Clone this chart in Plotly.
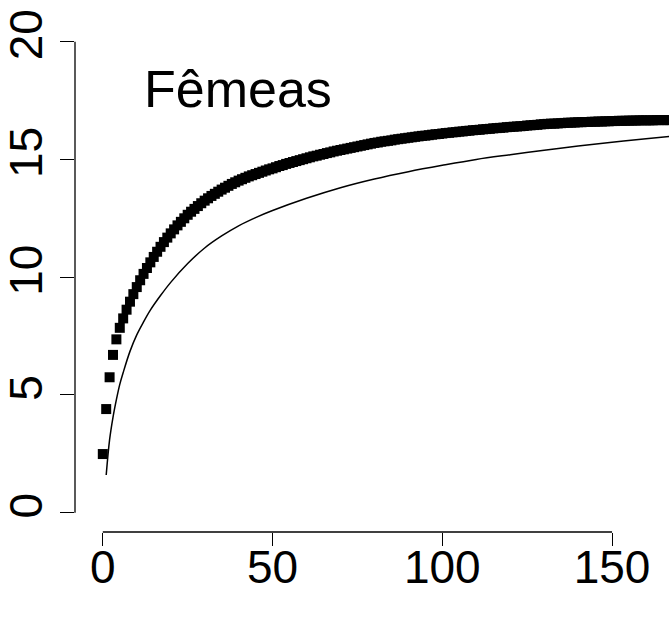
import plotly.graph_objects as go

# ---- data ----
sq_x = list(range(0, 168))
sq_y = [2.49, 4.40, 5.75, 6.70, 7.36, 7.85, 8.25, 8.62, 8.96, 9.28,
        9.58, 9.87, 10.14, 10.39, 10.63, 10.86, 11.08, 11.29, 11.49, 11.68,
        11.86, 12.03, 12.20, 12.35, 12.50, 12.65, 12.78, 12.90, 13.02, 13.14,
        13.25, 13.35, 13.45, 13.54, 13.63, 13.72, 13.80, 13.88, 13.96, 14.03,
        14.10, 14.16, 14.22, 14.28, 14.33, 14.38, 14.43, 14.48, 14.53, 14.58,
        14.62, 14.67, 14.72, 14.76, 14.81, 14.85, 14.89, 14.93, 14.97, 15.01,
        15.05, 15.09, 15.13, 15.16, 15.20, 15.23, 15.27, 15.30, 15.34, 15.37,
        15.40, 15.43, 15.46, 15.49, 15.52, 15.55, 15.58, 15.61, 15.64, 15.67,
        15.70, 15.72, 15.75, 15.77, 15.79, 15.81, 15.84, 15.86, 15.88, 15.90,
        15.92, 15.94, 15.96, 15.98, 16.00, 16.01, 16.03, 16.05, 16.07, 16.08,
        16.10, 16.12, 16.13, 16.15, 16.16, 16.18, 16.19, 16.21, 16.22, 16.24,
        16.25, 16.26, 16.28, 16.29, 16.30, 16.32, 16.33, 16.34, 16.35, 16.37,
        16.38, 16.39, 16.40, 16.41, 16.42, 16.44, 16.45, 16.46, 16.47, 16.49,
        16.50, 16.51, 16.52, 16.52, 16.53, 16.54, 16.55, 16.56, 16.56, 16.57,
        16.58, 16.58, 16.59, 16.59, 16.60, 16.60, 16.61, 16.61, 16.62, 16.62,
        16.63, 16.63, 16.64, 16.64, 16.64, 16.65, 16.65, 16.65, 16.66, 16.66,
        16.66, 16.66, 16.66, 16.67, 16.67, 16.67, 16.67, 16.67]

line_x = [1, 2, 3, 4, 5, 6, 8, 10, 12, 14, 17, 20, 25, 30, 35, 40, 45, 50,
          60, 70, 80, 90, 100, 110, 120, 130, 140, 150, 160, 167]
line_y = [1.60, 3.10, 4.05, 4.80, 5.45, 5.95, 6.85, 7.55, 8.10, 8.60, 9.22,
          9.78, 10.58, 11.24, 11.75, 12.18, 12.53, 12.83, 13.35, 13.80, 14.17,
          14.48, 14.75, 15.00, 15.20, 15.39, 15.57, 15.73, 15.88, 15.98]

x_ticks = [0, 50, 100, 150]
y_ticks = [0, 5, 10, 15, 20]
label = "Fêmeas"

FONT = "Liberation Sans, Arial, sans-serif"

fig = go.Figure()
fig.add_trace(go.Scatter(x=sq_x, y=sq_y, mode="markers",
                         marker=dict(symbol="square", size=10, color="#000000",
                                     line=dict(width=0)),
                         showlegend=False))
fig.add_trace(go.Scatter(x=line_x, y=line_y, mode="lines", line_shape="spline",
                         line=dict(color="#000000", width=1.5, smoothing=1.0),
                         showlegend=False))

# R-style bracket axis lines spanning first..last tick
fig.add_shape(type="line", xref="x", yref="paper", x0=x_ticks[0], x1=x_ticks[-1],
              y0=0, y1=0, line=dict(color="#000000", width=1.3))
fig.add_shape(type="line", xref="paper", yref="y", x0=0, x1=0,
              y0=y_ticks[0], y1=y_ticks[-1], line=dict(color="#000000", width=1.3))

fig.add_annotation(x=11.45, y=17.97, xref="x", yref="y", text=label,
                   showarrow=False, xanchor="left", yanchor="middle",
                   font=dict(family=FONT, size=52, color="#000000"))

fig.update_layout(
    width=669, height=618,
    margin=dict(l=71, r=0, t=0, b=86),
    paper_bgcolor="white", plot_bgcolor="white",
    xaxis=dict(range=[-8.19, 166.77], tickvals=x_ticks, ticks="outside",
               ticklen=13, tickwidth=1.3, tickcolor="#000000",
               ticklabelstandoff=-18,
               showgrid=False, zeroline=False, showline=False,
               tickfont=dict(family=FONT, size=46, color="#000000")),
    yaxis=dict(range=[-0.82, 21.77], tickvals=y_ticks, ticks="outside",
               ticklen=14, tickwidth=1.3, tickcolor="#000000", tickangle=-90,
               showgrid=False, zeroline=False, showline=False,
               tickfont=dict(family=FONT, size=46, color="#000000")),
)

fig.write_html("out.html")
